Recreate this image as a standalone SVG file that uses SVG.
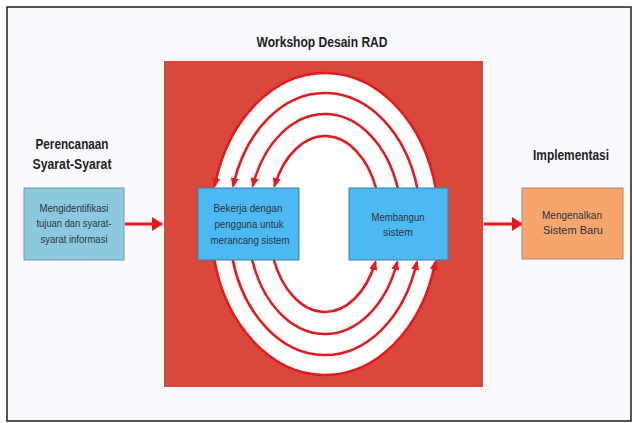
<svg xmlns="http://www.w3.org/2000/svg" width="633" height="423" viewBox="0 0 633 423">
<style>
.h{font-family:"Liberation Sans",Arial,sans-serif;font-weight:bold;font-size:14px;fill:#222;text-anchor:middle}
.t{font-family:"Liberation Sans",Arial,sans-serif;font-size:11px;fill:#2a3540;text-anchor:middle}
.loop{fill:none;stroke:#E5191E;stroke-width:2.6}
.arr{fill:none;stroke:#E5191E;stroke-width:3}
</style>
<defs>
<marker id="ah" viewBox="0 0 10 8" refX="8" refY="4" markerWidth="10" markerHeight="8" markerUnits="userSpaceOnUse" orient="auto">
<path d="M0,0 L10,4 L0,8 z" fill="#E5191E"/>
</marker>
<marker id="ahb" viewBox="0 0 11 14" refX="10" refY="7" markerWidth="11" markerHeight="14" markerUnits="userSpaceOnUse" orient="auto">
<path d="M0,0 L11,7 L0,14 z" fill="#E5191E"/>
</marker>
</defs>
<rect x="7" y="7" width="624" height="414" fill="#F8F9FC" stroke="#1e1e1e" stroke-width="1.5"/>
<g id="workshop">
<text class="h" x="322" y="47" textLength="131" lengthAdjust="spacingAndGlyphs">Workshop Desain RAD</text>
<rect x="164" y="61" width="319" height="326" fill="#D9483B"/>
<ellipse cx="325" cy="224" rx="114" ry="151" fill="#FFFFFF"/>
</g>
<g id="connectors">
<path class="loop" marker-end="url(#ah)" d="M376.65,190 A56 88 0 0 0 274.49,186"/>
<path class="loop" marker-end="url(#ah)" d="M398.23,190 A77 110 0 0 0 252.74,186"/>
<path class="loop" marker-end="url(#ah)" d="M417.71,190 A96 131 0 0 0 233.13,186"/>
<path class="loop" marker-end="url(#ah)" d="M436.07,190 A114 151 0 0 0 214.67,186"/>
<path class="loop" marker-end="url(#ah)" d="M273.35,258 A56 88 0 0 0 375.51,262"/>
<path class="loop" marker-end="url(#ah)" d="M251.77,258 A77 110 0 0 0 397.26,262"/>
<path class="loop" marker-end="url(#ah)" d="M232.29,258 A96 131 0 0 0 416.87,262"/>
<path class="loop" marker-end="url(#ah)" d="M213.93,258 A114 151 0 0 0 435.33,262"/>
<path class="arr" marker-end="url(#ahb)" d="M125,224 L162,224"/>
<path class="arr" marker-end="url(#ahb)" d="M484,224 L522,224"/>
</g>
<g id="perencanaan">
<text class="h" x="72" y="149" textLength="73" lengthAdjust="spacingAndGlyphs">Perencanaan</text>
<text class="h" x="72" y="169" textLength="79" lengthAdjust="spacingAndGlyphs">Syarat-Syarat</text>
<rect x="24" y="188" width="100" height="72" fill="#8DC9DE" stroke="#6A9DB2" stroke-width="1"/>
<text class="t" x="74" y="212" textLength="69" lengthAdjust="spacingAndGlyphs">Mengidentifikasi</text>
<text class="t" x="74" y="227" textLength="75" lengthAdjust="spacingAndGlyphs">tujuan dan syarat-</text>
<text class="t" x="74" y="243" textLength="67" lengthAdjust="spacingAndGlyphs">syarat informasi</text>
</g>
<g id="bekerja">
<rect x="198" y="188" width="101" height="72" fill="#4DB9F2" stroke="#3F7FA6" stroke-width="1"/>
<text class="t" x="248" y="212" textLength="69" lengthAdjust="spacingAndGlyphs">Bekerja dengan</text>
<text class="t" x="249" y="228" textLength="69" lengthAdjust="spacingAndGlyphs">pengguna untuk</text>
<text class="t" x="250" y="244" textLength="79" lengthAdjust="spacingAndGlyphs">merancang sistem</text>
</g>
<g id="membangun">
<rect x="349" y="188" width="99" height="72" fill="#4DB9F2" stroke="#3F7FA6" stroke-width="1"/>
<text class="t" x="398" y="221" textLength="53" lengthAdjust="spacingAndGlyphs">Membangun</text>
<text class="t" x="398" y="236" textLength="30" lengthAdjust="spacingAndGlyphs">sistem</text>
</g>
<g id="implementasi">
<text class="h" x="571" y="160" textLength="76" lengthAdjust="spacingAndGlyphs">Implementasi</text>
<rect x="522" y="188" width="101" height="71" fill="#F6A56D" stroke="#B98463" stroke-width="1"/>
<text class="t" x="572" y="219" textLength="60" lengthAdjust="spacingAndGlyphs">Mengenalkan</text>
<text class="t" x="573" y="234" textLength="60" lengthAdjust="spacingAndGlyphs">Sistem Baru</text>
</g>
</svg>
